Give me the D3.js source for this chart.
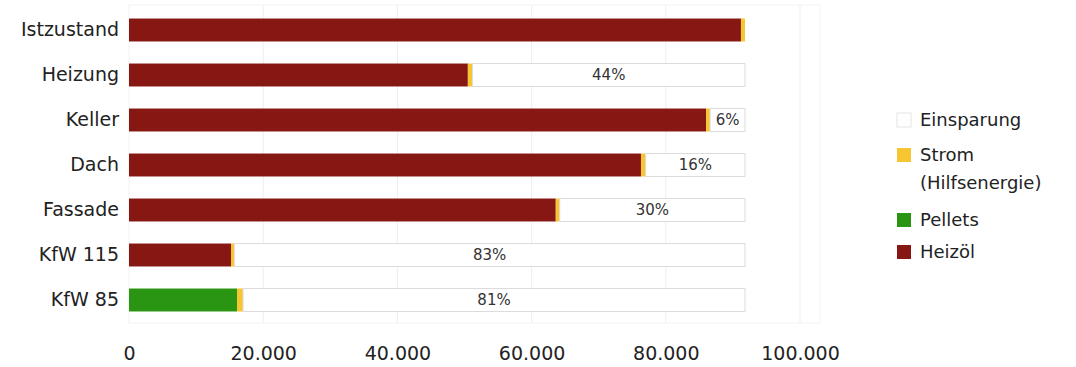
<!DOCTYPE html>
<html>
<head>
<meta charset="utf-8">
<script src="https://cdn.jsdelivr.net/npm/d3@7"></script>
<style>
  body { margin: 0; background: #fff; }
  text { font-family: "DejaVu Sans", Verdana, sans-serif; }
</style>
</head>
<body>
<div class="chart"></div>
<script>
// data (kWh per year)
const categories = ["Istzustand", "Heizung", "Keller", "Dach", "Fassade", "KfW 115", "KfW 85"];
const heizoel = [91200, 50500, 86000, 76300, 63600, 15200, 0];
const pellets = [0, 0, 0, 0, 0, 0, 16100];
const strom = [600, 700, 600, 700, 600, 500, 900];
const einsparung = [0, 40600, 5200, 14800, 27600, 76100, 74800];
const savingLabels = ["", "44%", "6%", "16%", "30%", "83%", "81%"];
const xTicks = [0, 20000, 40000, 60000, 80000, 100000];

const seriesNames = ["Heizöl", "Pellets", "Strom", "Einsparung"];
const seriesColors = { "Heizöl": "#861713", "Pellets": "#2a9512", "Strom": "#f7c531", "Einsparung": "#ffffff" };
const legendItems = [
  { name: "Einsparung", lines: ["Einsparung"] },
  { name: "Strom", lines: ["Strom", "(Hilfsenergie)"] },
  { name: "Pellets", lines: ["Pellets"] },
  { name: "Heizöl", lines: ["Heizöl"] }
];

const width = 1076, height = 367;
const svg = d3.select(".chart").append("svg")
  .attr("width", width)
  .attr("height", height);

const x = d3.scaleLinear().domain([0, 100000]).range([129, 800]);
const y = d3.scaleBand().domain(categories).range([7.5, 322.5])
  .paddingInner(0.49).paddingOuter(0.245);

// faint plot frame + gridlines
svg.append("rect")
  .attr("x", x(0)).attr("y", 5)
  .attr("width", 820 - x(0)).attr("height", 318)
  .attr("fill", "none").attr("stroke", "#f4f4f4");

svg.append("g").selectAll("line")
  .data(xTicks.slice(1))
  .join("line")
  .attr("x1", d => x(d)).attr("x2", d => x(d))
  .attr("y1", 5).attr("y2", 323)
  .attr("stroke", "#eeeeee");

// stacked table
const table = categories.map((c, i) => ({
  cat: c, "Heizöl": heizoel[i], "Pellets": pellets[i], "Strom": strom[i], "Einsparung": einsparung[i]
}));
const stacked = d3.stack().keys(seriesNames)(table);

const layers = svg.append("g").selectAll("g")
  .data(stacked)
  .join("g")
  .attr("fill", d => seriesColors[d.key])
  .attr("stroke", d => d.key === "Einsparung" ? "#dcdcdc" : "none");

layers.selectAll("rect")
  .data(d => d.filter(v => v[1] - v[0] > 0))
  .join("rect")
  .attr("x", d => x(d[0]))
  .attr("y", d => y(d.data.cat))
  .attr("width", d => x(d[1]) - x(d[0]))
  .attr("height", y.bandwidth());

// percentage labels in the savings segment
const saveLayer = stacked.find(s => s.key === "Einsparung");
svg.append("g").selectAll("text")
  .data(saveLayer.map((d, i) => ({ d, label: savingLabels[i] })).filter(o => o.label))
  .join("text")
  .attr("x", o => (x(o.d[0]) + x(o.d[1])) / 2)
  .attr("y", o => y(o.d.data.cat) + y.bandwidth() / 2)
  .attr("dy", "0.36em")
  .attr("text-anchor", "middle")
  .attr("font-size", "15px")
  .attr("fill", "#333")
  .text(o => o.label);

// category axis
const yAxis = svg.append("g")
  .attr("transform", `translate(${x(0)},0)`)
  .call(d3.axisLeft(y).tickSize(0).tickPadding(10));
yAxis.select(".domain").remove();
yAxis.selectAll("text")
  .attr("font-size", "19px")
  .attr("fill", "#222")
  .style("font-family", "DejaVu Sans, Verdana, sans-serif");

// value axis
const xAxis = svg.append("g")
  .attr("transform", "translate(0,342)")
  .call(d3.axisBottom(x).tickValues(xTicks).tickSize(0).tickPadding(4)
    .tickFormat(d => d3.format(",")(d).replace(/,/g, ".")));
xAxis.select(".domain").remove();
xAxis.selectAll("text")
  .attr("font-size", "19px")
  .attr("fill", "#222")
  .style("font-family", "DejaVu Sans, Verdana, sans-serif");

// legend
const legendY = [120, 155, 220, 252];
const legend = svg.append("g").selectAll("g")
  .data(legendItems)
  .join("g")
  .attr("transform", (d, i) => `translate(897,${legendY[i]})`);

legend.append("rect")
  .attr("x", 0).attr("y", -7)
  .attr("width", 14).attr("height", 14)
  .attr("fill", d => seriesColors[d.name])
  .attr("stroke", d => d.name === "Einsparung" ? "#e4e4e4" : "none");

legend.each(function (d) {
  d3.select(this).selectAll("text")
    .data(d.lines)
    .join("text")
    .attr("x", 23)
    .attr("y", (t, j) => j * 28)
    .attr("dy", "0.36em")
    .attr("font-size", "18px")
    .attr("fill", "#222")
    .text(t => t);
});
</script>
</body>
</html>
